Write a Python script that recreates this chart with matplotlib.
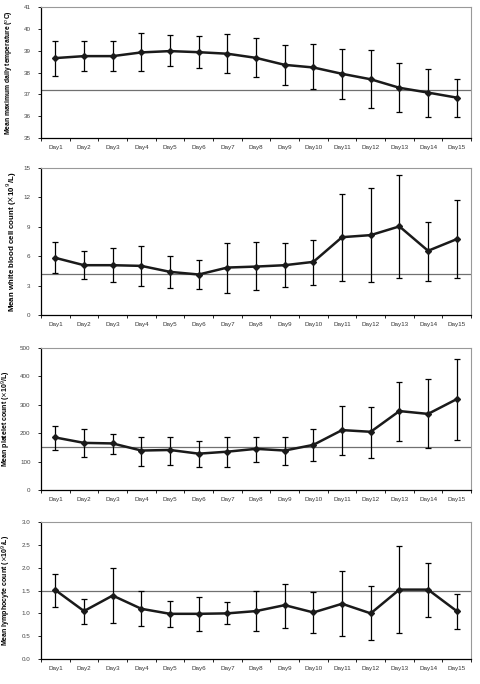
import matplotlib
matplotlib.use("Agg")
import matplotlib.pyplot as plt
import numpy as np

plt.rcParams['font.family'] = ['Liberation Sans', 'DejaVu Sans']

days = ["Day%d" % i for i in range(1, 16)]

# temperature
temp_mean = [38.66, 38.75, 38.75, 38.92, 38.98, 38.93, 38.86, 38.67, 38.35, 38.23, 37.94, 37.69, 37.30, 37.08, 36.85]
temp_hi = [39.44, 39.44, 39.45, 39.79, 39.70, 39.65, 39.76, 39.56, 39.25, 39.29, 39.09, 39.04, 38.43, 38.15, 37.72]
temp_lo = [37.86, 38.08, 38.08, 38.05, 38.29, 38.21, 37.98, 37.79, 37.45, 37.23, 36.78, 36.36, 36.21, 35.98, 35.98]
temp_ref = 37.2

# white blood cells
wbc_mean = [5.83, 5.08, 5.08, 5.01, 4.40, 4.13, 4.84, 4.94, 5.08, 5.42, 7.94, 8.15, 9.04, 6.55, 7.74]
wbc_hi = [7.43, 6.58, 6.85, 7.09, 5.97, 5.66, 7.33, 7.43, 7.30, 7.67, 12.38, 12.92, 14.25, 9.48, 11.73]
wbc_lo = [4.26, 3.65, 3.34, 3.00, 2.80, 2.63, 2.28, 2.56, 2.86, 3.10, 3.44, 3.38, 3.82, 3.51, 3.78]
wbc_ref = 4.15

# platelets
plt_mean = [185, 166, 164, 139, 141, 128, 135, 145, 139, 159, 211, 205, 278, 268, 320]
plt_hi = [227, 216, 199, 188, 188, 172, 188, 188, 188, 214, 296, 294, 380, 391, 461]
plt_lo = [140, 116, 128, 86, 89, 82, 81, 98, 87, 101, 122, 113, 174, 148, 175]
plt_ref = 153

# lymphocytes
lym_mean = [1.51, 1.05, 1.39, 1.10, 0.99, 0.99, 1.00, 1.05, 1.18, 1.02, 1.21, 1.00, 1.52, 1.52, 1.05]
lym_hi = [1.87, 1.32, 2.00, 1.48, 1.26, 1.35, 1.24, 1.49, 1.65, 1.46, 1.92, 1.59, 2.47, 2.11, 1.43]
lym_lo = [1.15, 0.76, 0.78, 0.73, 0.71, 0.61, 0.76, 0.61, 0.68, 0.58, 0.50, 0.41, 0.57, 0.93, 0.65]
lym_ref = 1.5

panels = [
    (temp_mean, temp_lo, temp_hi, temp_ref, (35, 41), np.arange(35, 42, 1),
     ["35", "36", "37", "38", "39", "40", "41"],
     r"Mean maximum daily temperature ($^{o}$C)"),
    (wbc_mean, wbc_lo, wbc_hi, wbc_ref, (0, 15), np.arange(0, 16, 3),
     ["0", "3", "6", "9", "12", "15"],
     r"Mean white blood cell count ($\times$10$^{9}$/L)"),
    (plt_mean, plt_lo, plt_hi, plt_ref, (0, 500), np.arange(0, 501, 100),
     ["0", "100", "200", "300", "400", "500"],
     r"Mean platelet count ($\times$10$^{9}$/L)"),
    (lym_mean, lym_lo, lym_hi, lym_ref, (0, 3), np.arange(0, 3.01, 0.5),
     ["0.0", "0.5", "1.0", "1.5", "2.0", "2.5", "3.0"],
     r"Mean lymphocyte count ($\times$10$^{9}$/L)"),
]

# layout: (top, bottom) of each panel, label size, label x (right edge of rotated label)
boxes = [(0.9898, 0.7982), (0.7544, 0.5395), (0.4912, 0.2836), (0.2368, 0.0365)]
lab_size = [4.9, 5.7, 5.0, 5.0]
lab_x = [-0.057, -0.052, -0.064, -0.065]

fig = plt.figure(figsize=(4.8, 6.84), dpi=100)
x = np.arange(len(days))

for i, (mean, lo, hi, ref, ylim, yt, ytl, ylab) in enumerate(panels):
    top, bot = boxes[i]
    ax = fig.add_axes([0.0854, bot, 0.896, top - bot])
    mean = np.array(mean)
    err = [mean - np.array(lo), np.array(hi) - mean]
    ax.axhline(ref, color="#707070", lw=0.9, zorder=1)
    ax.errorbar(x, mean, yerr=err, fmt="none", ecolor="black", elinewidth=0.9,
                capsize=2, capthick=0.9, zorder=2)
    ax.plot(x, mean, color="#1a1a1a", lw=1.8, marker="D", ms=3, zorder=3)
    ax.set_xlim(-0.5, len(days) - 0.5)
    ax.set_ylim(*ylim)
    ax.set_yticks(yt)
    ax.set_yticklabels(ytl, fontsize=4.5, color="#444444")
    ax.set_xticks(x)
    ax.set_xticklabels(days, fontsize=4.5, color="#333333")
    ax.set_xticks(np.arange(-0.5, len(days), 1), minor=True)
    ax.tick_params(axis="x", which="major", length=0, pad=5)
    ax.tick_params(axis="x", which="minor", length=2.5, width=0.6, direction="out")
    ax.tick_params(axis="y", length=2.5, width=0.6, direction="out", pad=5)
    ax.set_ylabel(ylab, fontsize=lab_size[i], fontweight="bold")
    ax.yaxis.set_label_coords(lab_x[i], 0.5)
    for s in ["top", "right"]:
        ax.spines[s].set_color("#999999")
        ax.spines[s].set_linewidth(0.8)
    for s in ["left", "bottom"]:
        ax.spines[s].set_color("black")
        ax.spines[s].set_linewidth(0.9)

fig.savefig("out.png", dpi=100)
